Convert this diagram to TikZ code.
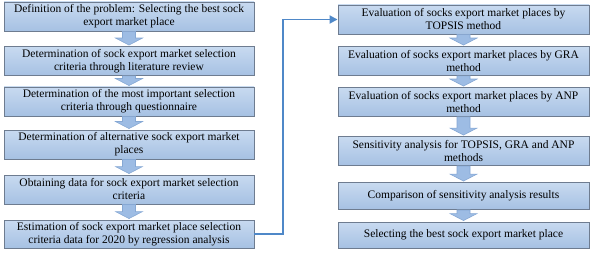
\documentclass[tikz,border=0pt]{standalone}
\usepackage{fontspec}
\setmainfont{Liberation Serif}
\usetikzlibrary{arrows.meta,positioning,calc}

\definecolor{boxtop}{HTML}{C8DAF0}
\definecolor{boxbot}{HTML}{A6C1E3}
\definecolor{boxline}{HTML}{6E7C90}
\definecolor{blkfill}{HTML}{9DBCE4}
\definecolor{blkline}{HTML}{86A8D4}
\definecolor{connblue}{HTML}{4F88C8}

\begin{document}
\begin{tikzpicture}[
    x=1pt, y=-1pt,
    stage/.style={draw=boxline, line width=0.9pt, top color=boxtop, bottom color=boxbot,
        minimum width=250pt, minimum height=29pt, inner sep=0pt, align=center,
        font=\fontsize{11.5}{13}\selectfont},
    blk/.style={draw=blkline, line width=0.6pt, fill=blkfill},
    conn/.style={draw=connblue, line width=1.8pt, -{Triangle[length=8pt, width=8pt]}}
]
\useasboundingbox (0,0) rectangle (595,254);

% left column
\node[stage] (b1) at (129,16.5) {Definition of the problem: Selecting the best sock\\export market place};
\node[stage] (b2) at (129,61) {Determination of sock export market selection\\criteria through literature review};
\node[stage] (b3) at (129,101.5) {Determination of the most important selection\\criteria through questionnaire};
\node[stage] (b4) at (129,144.5) {Determination of alternative sock export market\\places};
\node[stage] (b5) at (129,189.5) {Obtaining data for sock export market selection\\criteria};
\node[stage, minimum height=28pt] (b6) at (129,234) {Estimation of sock export market place selection\\criteria data for 2020 by regression analysis};

% right column
\node[stage, minimum width=251pt] (r1) at (463.5,19.5) {Evaluation of socks export market places by\\TOPSIS method};
\node[stage, minimum width=251pt] (r2) at (463.5,61) {Evaluation of socks export market places by GRA\\method};
\node[stage, minimum width=251pt] (r3) at (463.5,102) {Evaluation of socks export market places by ANP\\method};
\node[stage, minimum width=251pt] (r4) at (463.5,151) {Sensitivity analysis for TOPSIS, GRA and ANP\\methods};
\node[stage, minimum width=251pt, minimum height=27pt] (r5) at (463.5,196) {Comparison of sensitivity analysis results};
\node[stage, minimum width=251pt, minimum height=26pt] (r6) at (463.5,235) {Selecting the best sock export market place};

% block arrows
\foreach \a/\b in {b1/b2,b2/b3,b3/b4,b4/b5,b5/b6,r1/r2,r2/r3,r3/r4,r4/r5,r5/r6}
  \draw[blk] let \p1=(\a.south), \p2=(\b.north) in
    (\x1-6.5pt,\y1) -- (\x1+6.5pt,\y1) -- (\x1+6.5pt,\y2+8pt) -- (\x1+13.5pt,\y2+8pt)
    -- (\x1,\y2+1pt) -- (\x1-13.5pt,\y2+8pt) -- (\x1-6.5pt,\y2+8pt) -- cycle;

% link between columns
\coordinate (bend) at (283,0);
\draw[conn] (b6.east) -- (b6.east -| bend) |- (r1.west);
\end{tikzpicture}
\end{document}
